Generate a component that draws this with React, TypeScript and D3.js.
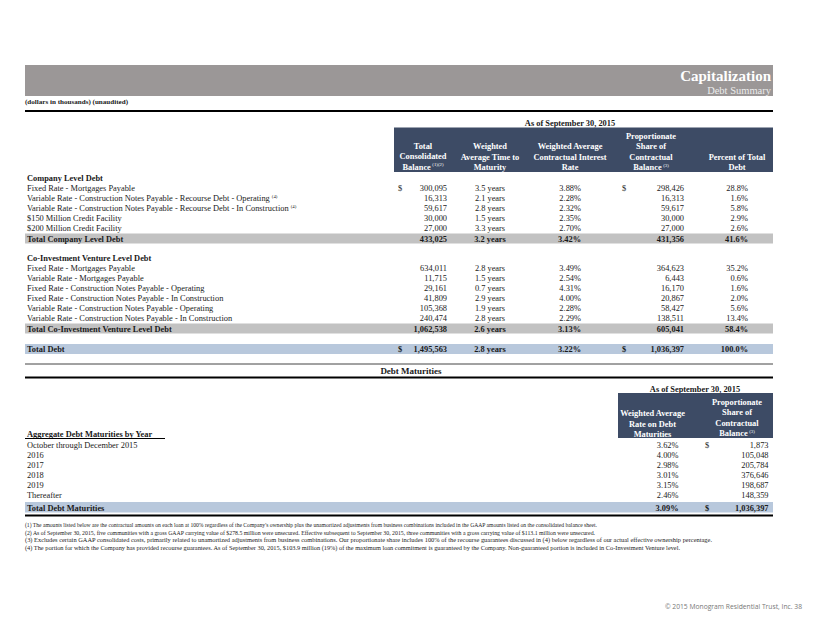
import React from "react";
import * as d3 from "d3";

// ---------- data ----------
const companyLabels = [
  "Fixed Rate - Mortgages Payable",
  "Variable Rate - Construction Notes Payable - Recourse Debt - Operating",
  "Variable Rate - Construction Notes Payable - Recourse Debt - In Construction",
  "$150 Million Credit Facility",
  "$200 Million Credit Facility",
];
const companyNotes = ["", "(4)", "(4)", "", ""];
const companyBalance = [300095, 16313, 59617, 30000, 27000];
const companyYears = [3.5, 2.1, 2.8, 1.5, 3.3];
const companyRates = [3.88, 2.28, 2.32, 2.35, 2.7];
const companyShare = [298426, 16313, 59617, 30000, 27000];
const companyPct = [28.8, 1.6, 5.8, 2.9, 2.6];

const coLabels = [
  "Fixed Rate - Mortgages Payable",
  "Variable Rate - Mortgages Payable",
  "Fixed Rate - Construction Notes Payable - Operating",
  "Fixed Rate - Construction Notes Payable - In Construction",
  "Variable Rate - Construction Notes Payable - Operating",
  "Variable Rate - Construction Notes Payable - In Construction",
];
const coBalance = [634011, 11715, 29161, 41809, 105368, 240474];
const coYears = [2.8, 1.5, 0.7, 2.9, 1.9, 2.8];
const coRates = [3.49, 2.54, 4.31, 4.0, 2.28, 2.29];
const coShare = [364623, 6443, 16170, 20867, 58427, 138511];
const coPct = [35.2, 0.6, 1.6, 2.0, 5.6, 13.4];

const totalLabels = ["Total Company Level Debt", "Total Co-Investment Venture Level Debt", "Total Debt"];
const totalBalance = [433025, 1062538, 1495563];
const totalYears = [3.2, 2.6, 2.8];
const totalRates = [3.42, 3.13, 3.22];
const totalShare = [431356, 605041, 1036397];
const totalPct = [41.6, 58.4, 100.0];

const maturityLabels = ["October through December 2015", "2016", "2017", "2018", "2019", "Thereafter"];
const maturityRates = [3.62, 4.0, 2.98, 3.01, 3.15, 2.46];
const maturityAmounts = [1873, 105048, 205784, 376646, 198687, 148359];
const maturityTotalLabel = "Total Debt Maturities";
const maturityTotalRate = 3.09;
const maturityTotalAmount = 1036397;

const footnotes = [
  "(1) The amounts listed below are the contractual amounts on each loan at 100% regardless of the Company's ownership plus the unamortized adjustments from business combinations included in the GAAP amounts listed on the consolidated balance sheet.",
  "(2) As of September 30, 2015, five communities with a gross GAAP carrying value of $278.5 million were unsecured.  Effective subsequent to September 30, 2015, three communities with a gross carrying value of $113.1 million were unsecured.",
  "(3) Excludes certain GAAP consolidated costs, primarily related to unamortized adjustments from business combinations.  Our proportionate share includes 100% of the recourse guarantees discussed in (4) below regardless of our actual effective ownership percentage.",
  "(4) The portion for which the Company has provided recourse guarantees.  As of September 30, 2015, $103.9 million (19%) of the maximum loan commitment is guaranteed by the Company.  Non-guaranteed portion is included in Co-Investment Venture level.",
];
const footnoteWidths = [572, 570, 687, 655];

// ---------- styling ----------
const SERIF = "'Liberation Serif','Times New Roman',serif";
const SANS = "'Open Sans','Liberation Sans',sans-serif";
const TXT = "#1a1a1a";
const HEAD_BG = "#3d4b65";
const GRAY_BAND = "#c2c2c2";
const BLUE_BAND = "#b8c8dc";
const FS = 8.4;

const fmtN = d3.format(",");
const fmtR = (v: number) => d3.format(".2f")(v) + "%";
const fmtP = (v: number) => d3.format(".1f")(v) + "%";
const fmtY = (v: number) => d3.format(".1f")(v) + " years";

const L = 25;
const R = 773;

// columns of the top table
const colX = d3
  .scaleOrdinal<string, number>()
  .domain(["label", "d1", "bal", "yrs", "rate", "d2", "share", "pct"])
  .range([27, 398, 447, 490, 581, 622, 684, 748]);

// rows (centre y of each line)
const pitch = 10.05;
const rowScale = (start: number) => d3.scaleLinear().domain([0, 1]).range([start, start + pitch]);
const yCompany = rowScale(187.7);
const yCo = rowScale(267.7);
const yMat = rowScale(445);

const bl = (c: number) => c + 3; // baseline from centre

function Row({
  y,
  label,
  note,
  bal,
  yrs,
  rate,
  share,
  pct,
  dollar,
  bold,
}: any) {
  const fw = bold ? "bold" : "normal";
  return (
    <g fontFamily={SERIF} fontSize={FS} fill={TXT} fontWeight={fw}>
      <text x={colX("label")} y={bl(y)}>
        {label}
        {note ? (
          <tspan fontSize={4.8} dy={-3.2} dx={2} fontWeight="normal">
            {note}
          </tspan>
        ) : null}
      </text>
      {dollar && <text x={colX("d1")} y={bl(y)}>$</text>}
      <text x={colX("bal")} y={bl(y)} textAnchor="end">{fmtN(bal)}</text>
      <text x={colX("yrs")} y={bl(y)} textAnchor="middle">{fmtY(yrs)}</text>
      <text x={colX("rate")} y={bl(y)} textAnchor="end">{fmtR(rate)}</text>
      {dollar && <text x={colX("d2")} y={bl(y)}>$</text>}
      <text x={colX("share")} y={bl(y)} textAnchor="end">{fmtN(share)}</text>
      <text x={colX("pct")} y={bl(y)} textAnchor="end">{fmtP(pct)}</text>
    </g>
  );
}

function HeaderLines({ cx, lines, note, startY }: any) {
  const lh = 10.5;
  return (
    <g>
      {lines.map((t: string, i: number) => (
        <text
          key={i}
          x={cx}
          y={startY + i * lh + 3}
          textAnchor="middle"
          fontFamily={SERIF}
          fontSize={FS}
          fontWeight="bold"
          fill="#ffffff"
        >
          {t}
          {note && i === lines.length - 1 ? (
            <tspan fontSize={4.8} dy={-3.2} dx={1.5} fontWeight="normal">
              {note}
            </tspan>
          ) : null}
        </text>
      ))}
    </g>
  );
}

export default function App() {
  const totalY = [238.5, 328.5, 349];
  return (
    <svg
      width={822}
      height={635}
      style={{ position: "absolute", left: 0, top: 0, background: "#ffffff" }}
    >
      <rect x={0} y={0} width={822} height={635} fill="#ffffff" />
      {/* title band */}
      <rect x={L} y={65} width={R - L} height={31} fill="#9b9797" />
      <text x={771} y={81} textAnchor="end" fontFamily={SERIF} fontWeight="bold" fontSize={15} fill="#ffffff">
        Capitalization
      </text>
      <text x={771} y={94} textAnchor="end" fontFamily={SERIF} fontSize={10.5} fill="#ececec">
        Debt Summary
      </text>
      <text x={L} y={104} fontFamily={SERIF} fontSize={6.6} fontWeight="bold" fill={TXT} textLength={103} lengthAdjust="spacingAndGlyphs">
        (dollars in thousands) (unaudited)
      </text>
      <line x1={L} x2={R} y1={111} y2={111} stroke="#000" strokeWidth={2} />

      {/* top table header */}
      <text x={570} y={126} textAnchor="middle" fontFamily={SERIF} fontSize={FS} fontWeight="bold" fill={TXT}>
        As of September 30, 2015
      </text>
      <rect x={394} y={127.5} width={379} height={44.5} fill={HEAD_BG} />
      <HeaderLines cx={423} startY={145.5} lines={["Total", "Consolidated", "Balance"]} note="(1)(2)" />
      <HeaderLines cx={490} startY={146} lines={["Weighted", "Average Time to", "Maturity"]} />
      <HeaderLines cx={570} startY={146} lines={["Weighted Average", "Contractual Interest", "Rate"]} />
      <HeaderLines cx={651} startY={135.5} lines={["Proportionate", "Share of", "Contractual", "Balance"]} note="(3)" />
      <HeaderLines cx={737} startY={156.5} lines={["Percent of Total", "Debt"]} />

      {/* company level */}
      <text x={27} y={bl(177.7)} fontFamily={SERIF} fontSize={FS} fontWeight="bold" fill={TXT}>
        Company Level Debt
      </text>
      {companyLabels.map((lab, i) => (
        <Row
          key={"c" + i}
          y={yCompany(i)}
          label={lab}
          note={companyNotes[i]}
          bal={companyBalance[i]}
          yrs={companyYears[i]}
          rate={companyRates[i]}
          share={companyShare[i]}
          pct={companyPct[i]}
          dollar={i === 0}
        />
      ))}

      {/* totals bands */}
      <rect x={L} y={totalY[0] - 5} width={R - L} height={10} fill={GRAY_BAND} />
      <rect x={L} y={totalY[1] - 5} width={R - L} height={10} fill={GRAY_BAND} />
      <rect x={L} y={totalY[2] - 5} width={R - L} height={10} fill={BLUE_BAND} />

      {/* co-investment */}
      <text x={27} y={bl(257.7)} fontFamily={SERIF} fontSize={FS} fontWeight="bold" fill={TXT}>
        Co-Investment Venture Level Debt
      </text>
      {coLabels.map((lab, i) => (
        <Row
          key={"v" + i}
          y={yCo(i)}
          label={lab}
          bal={coBalance[i]}
          yrs={coYears[i]}
          rate={coRates[i]}
          share={coShare[i]}
          pct={coPct[i]}
          dollar={false}
        />
      ))}

      {totalLabels.map((lab, i) => (
        <Row
          key={"t" + i}
          y={totalY[i]}
          label={lab}
          bal={totalBalance[i]}
          yrs={totalYears[i]}
          rate={totalRates[i]}
          share={totalShare[i]}
          pct={totalPct[i]}
          dollar={i === 2}
          bold
        />
      ))}

      {/* Debt maturities title */}
      <line x1={L} x2={R} y1={364} y2={364} stroke="#444" strokeWidth={1} />
      <text x={411} y={374} textAnchor="middle" fontFamily={SERIF} fontSize={9} fontWeight="bold" fill={TXT}>
        Debt Maturities
      </text>
      <line x1={L} x2={R} y1={377.5} y2={377.5} stroke="#000" strokeWidth={2} />

      <text x={695} y={392} textAnchor="middle" fontFamily={SERIF} fontSize={FS} fontWeight="bold" fill={TXT}>
        As of September 30, 2015
      </text>
      <rect x={618} y={393} width={155} height={45} fill={HEAD_BG} />
      <HeaderLines cx={652.5} startY={413} lines={["Weighted Average", "Rate on Debt", "Maturities"]} />
      <HeaderLines cx={737} startY={401.5} lines={["Proportionate", "Share of", "Contractual", "Balance"]} note="(3)" />

      <text x={27} y={bl(434)} fontFamily={SERIF} fontSize={FS} fontWeight="bold" fill={TXT}>
        Aggregate Debt Maturities by Year
      </text>
      <line x1={L} x2={165} y1={438.5} y2={438.5} stroke="#000" strokeWidth={1} />

      {maturityLabels.map((lab, i) => (
        <g key={"m" + i} fontFamily={SERIF} fontSize={FS} fill={TXT}>
          <text x={27} y={bl(yMat(i))}>{lab}</text>
          <text x={678.5} y={bl(yMat(i))} textAnchor="end">{fmtR(maturityRates[i])}</text>
          {i === 0 && <text x={705} y={bl(yMat(i))}>$</text>}
          <text x={768.5} y={bl(yMat(i))} textAnchor="end">{fmtN(maturityAmounts[i])}</text>
        </g>
      ))}
      <rect x={L} y={502} width={R - L} height={10.5} fill={BLUE_BAND} />
      <g fontFamily={SERIF} fontSize={FS} fill={TXT} fontWeight="bold">
        <text x={27} y={bl(507.5)}>{maturityTotalLabel}</text>
        <text x={678.5} y={bl(507.5)} textAnchor="end">{fmtR(maturityTotalRate)}</text>
        <text x={705} y={bl(507.5)}>$</text>
        <text x={768.5} y={bl(507.5)} textAnchor="end">{fmtN(maturityTotalAmount)}</text>
      </g>

      <line x1={L} x2={R} y1={515.5} y2={515.5} stroke="#000" strokeWidth={2} />
      {footnotes.map((t, i) => (
        <text
          key={"f" + i}
          x={L}
          y={527 + i * 7.7}
          fontFamily={SERIF}
          fontSize={5.6}
          fill={TXT}
          textLength={footnoteWidths[i]}
          lengthAdjust="spacingAndGlyphs"
        >
          {t}
        </text>
      ))}

      <text x={665} y={608.5} fontFamily={SANS} fontSize={7} fill="#777777" textLength={137} lengthAdjust="spacingAndGlyphs">
        © 2015 Monogram Residential Trust, Inc.  38
      </text>
    </svg>
  );
}
